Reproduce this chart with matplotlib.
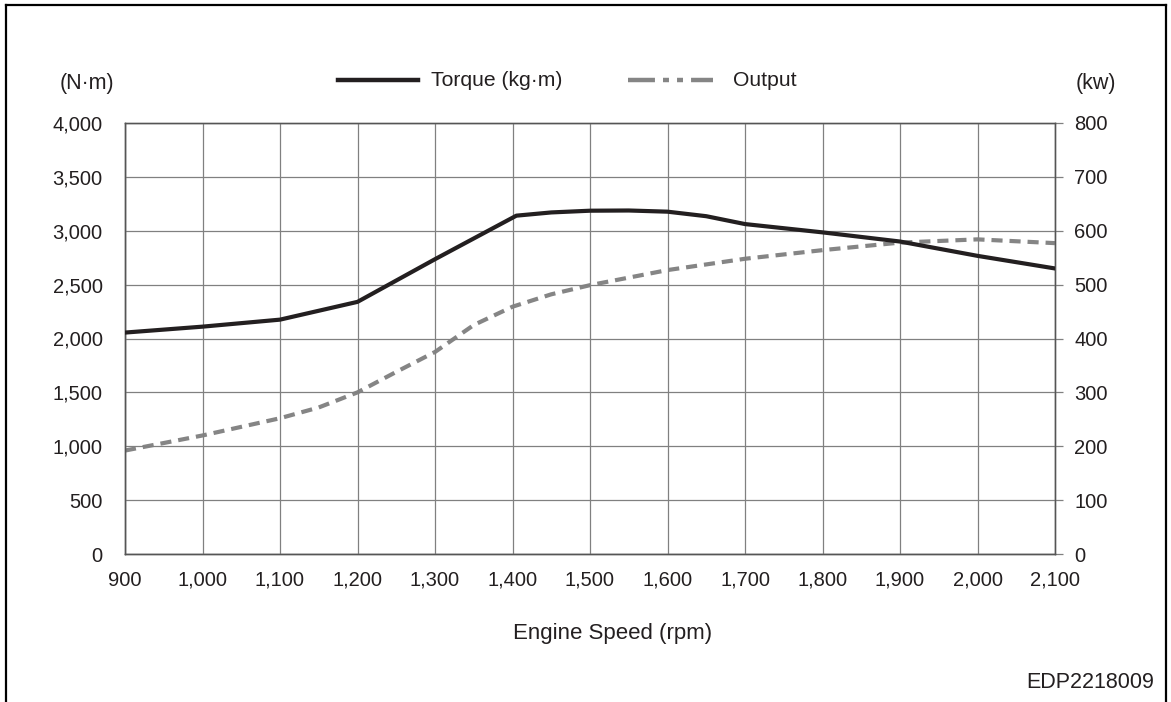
import numpy as np
import matplotlib
matplotlib.use("Agg")
import matplotlib.pyplot as plt
from matplotlib.lines import Line2D
from matplotlib.ticker import FuncFormatter

plt.rcParams["font.family"] = ["Liberation Sans", "DejaVu Sans"]
plt.rcParams["lines.scale_dashes"] = False

# values
torque_rpm = [900, 1000, 1100, 1200, 1300, 1405, 1450, 1500, 1550, 1600, 1650, 1700, 1800, 1900, 2000, 2100]
torque_nm = [2055, 2110, 2175, 2340, 2736, 3140, 3170, 3186, 3188, 3177, 3135, 3062, 2985, 2900, 2767, 2650]

output_rpm = [900, 950, 1000, 1100, 1150, 1200, 1250, 1300, 1350, 1400, 1450, 1500, 1600, 1700, 1800, 1900, 2000, 2100]
output_kw = [192, 206, 220, 252, 272, 300, 338, 375, 425, 459, 482, 499, 527, 548, 564, 578, 584, 577]

x_ticks = [900, 1000, 1100, 1200, 1300, 1400, 1500, 1600, 1700, 1800, 1900, 2000, 2100]
left_ticks = [0, 500, 1000, 1500, 2000, 2500, 3000, 3500, 4000]
right_ticks = [0, 100, 200, 300, 400, 500, 600, 700, 800]

W, H = 1171, 702
fig = plt.figure(figsize=(W / 100, H / 100), dpi=100)


def px(x, y):
    return x / W, 1 - y / H


ax = fig.add_axes([125 / W, (H - 554) / H, (1055 - 125) / W, (554 - 123) / H])
ax2 = ax.twinx()

grid_c = "#808080"
ax.set_xlim(900, 2100)
ax.set_ylim(0, 4000)
ax2.set_ylim(0, 800)
ax.set_xticks(x_ticks)
ax.set_yticks(left_ticks)
ax2.set_yticks(right_ticks)
fmt = FuncFormatter(lambda v, p: f"{int(v):,}")
ax.xaxis.set_major_formatter(fmt)
ax.yaxis.set_major_formatter(fmt)
ax.grid(True, color=grid_c, linewidth=0.9)
ax.set_axisbelow(True)

ax.tick_params(axis="y", length=0, pad=16, labelsize=14.5, labelcolor="#231f20")
ax.tick_params(axis="x", length=0, pad=12, labelsize=14.5, labelcolor="#231f20")
ax2.tick_params(axis="y", length=6, width=0.9, color=grid_c, pad=8, labelsize=14.5, labelcolor="#231f20")
for a in (ax, ax2):
    for s in a.spines.values():
        s.set_color("#555555")
        s.set_linewidth(1.0)
ax2.spines["right"].set_color(grid_c)
ax2.spines["top"].set_color(grid_c)

ax2.plot(output_rpm, output_kw, color="#858585", linewidth=3.0, dashes=(8, 5), solid_capstyle="butt")
ax.plot(torque_rpm, torque_nm, color="#231f20", linewidth=3.0, zorder=5)
ax.set_zorder(ax2.get_zorder() + 1)
ax.patch.set_visible(False)

# legend drawn by hand
fig.add_artist(Line2D([px(338, 0)[0], px(418, 0)[0]], [px(0, 80)[1]] * 2, color="#231f20", linewidth=3.2))
fig.text(*px(431, 80), "Torque (kg·m)", fontsize=15.2, color="#231f20", va="center", ha="left")
fig.add_artist(Line2D([px(628, 0)[0], px(713, 0)[0]], [px(0, 80)[1]] * 2, color="#858585", linewidth=3.2,
                      dashes=(19.4, 5.8, 4.3, 5.8, 4.3, 5.8)))
fig.text(*px(733, 80), "Output", fontsize=15.2, color="#231f20", va="center", ha="left")

fig.text(*px(87, 83), "(N·m)", fontsize=15.5, color="#231f20", va="center", ha="center")
fig.text(*px(1096, 83), "(kw)", fontsize=15.5, color="#231f20", va="center", ha="center")
fig.text(*px(613, 633), "Engine Speed (rpm)", fontsize=16, color="#231f20", va="center", ha="center")
fig.text(*px(1154, 683), "EDP2218009", fontsize=15.5, color="#231f20", va="center", ha="right")

# outer frame (open at the bottom)
fig.add_artist(Line2D([px(6, 0)[0], px(6, 0)[0]], [0, px(0, 5)[1]], color="black", linewidth=1.6))
fig.add_artist(Line2D([px(6, 0)[0], px(1166, 0)[0]], [px(0, 5)[1]] * 2, color="black", linewidth=1.6))
fig.add_artist(Line2D([px(1166, 0)[0], px(1166, 0)[0]], [0, px(0, 5)[1]], color="black", linewidth=1.6))

fig.savefig("out.png", dpi=100)
